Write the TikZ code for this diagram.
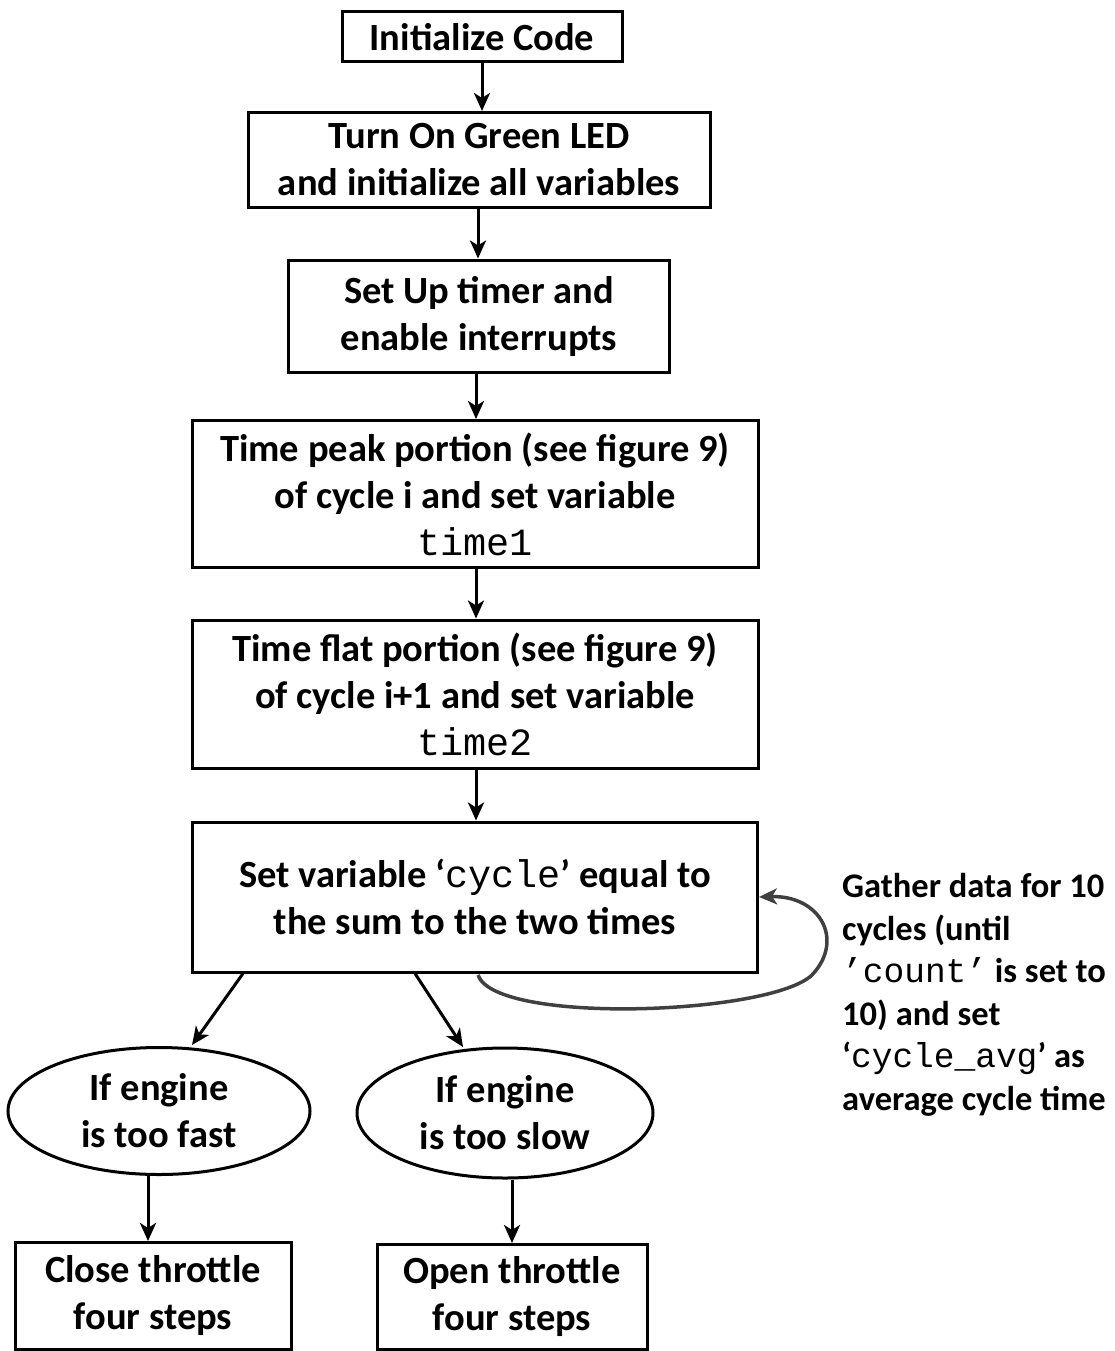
\documentclass[tikz,border=0pt]{standalone}
\usepackage{fontspec}
\setmainfont{Carlito}
\setmonofont{Liberation Mono}
\usetikzlibrary{arrows.meta,shapes.geometric}
\begin{document}
\begin{tikzpicture}[x=1pt,y=-1pt,
  every node/.style={font=\fontsize{38.5}{47}\selectfont\bfseries, align=center, inner sep=0pt},
  box/.style={draw, line width=3pt, rectangle},
  oval/.style={draw, line width=3pt, ellipse},
  arr/.style={line width=3pt, -{Stealth[length=18pt,width=16pt,inset=5pt]}},
  note/.style={font=\fontsize{34.5}{42.6}\selectfont\bfseries, align=left, anchor=north west}
]
\useasboundingbox (0,0) rectangle (1115,1351);
\node[box, minimum width=280pt, minimum height=50pt] (n1) at (482,37) {Initialize Code};
\node[box, minimum width=462pt, minimum height=95pt] (n2) at (479,160) {Turn On Green LED\\and initialize all variables};
\node[box, minimum width=381pt, minimum height=112pt] (n3) at (479,316) {Set Up timer and\\enable interrupts};
\node[box, minimum width=566pt, minimum height=147pt] (n4) at (475,494) {Time peak portion (see figure 9)\\of cycle i and set variable\\{\mdseries\ttfamily time1}};
\node[box, minimum width=566pt, minimum height=148pt] (n5) at (475,694) {Time flat portion (see figure 9)\\of cycle i+1 and set variable\\{\mdseries\ttfamily time2}};
\node[box, minimum width=565pt, minimum height=150pt] (n6) at (475,897) {Set variable ‘{\mdseries\ttfamily cycle}’ equal to\\the sum to the two times};
\node[oval, minimum width=302pt, minimum height=127pt] (e1) at (159,1111) {If engine\\is too fast};
\node[oval, minimum width=296pt, minimum height=130pt] (e2) at (505,1113) {If engine\\is too slow};
\node[box, minimum width=276pt, minimum height=107pt] (c1) at (153,1296) {Close throttle\\four steps};
\node[box, minimum width=270pt, minimum height=105pt] (c2) at (512,1297) {Open throttle\\four steps};
\node[note] (t) at (842,873) {Gather data for 10\\cycles (until\\{\mdseries\ttfamily ’count’} is set to\\10) and set\\‘{\mdseries\ttfamily cycle\_avg}’ as\\average cycle time};

\draw[arr] (n1.south) -- (n2.north -| n1.south);
\draw[arr] (n2.south -| 478,0) -- (n3.north -| 478,0);
\draw[arr] (n3.south -| 476,0) -- (n4.north -| 476,0);
\draw[arr] (n4.south -| 476,0) -- (n5.north -| 476,0);
\draw[arr] (n5.south -| 476,0) -- (n6.north -| 476,0);
\draw[arr] (n6.south -| 243,0) -- (192,1045);
\draw[arr] (n6.south -| 415,0) -- (463,1047);
\draw[arr] (e1.south -| 148,0) -- (c1.north -| 148,0);
\draw[arr] (e2.south -| 512,0) -- (c2.north -| 512,0);
\coordinate (lp) at (478,975);
\draw[arr, line width=3.5pt, black!75] (lp) .. controls (495,1025) and (770,1015) .. (812,975) .. controls (845,940) and (820,895) .. (n6.east |- 0,897);
\end{tikzpicture}
\end{document}
